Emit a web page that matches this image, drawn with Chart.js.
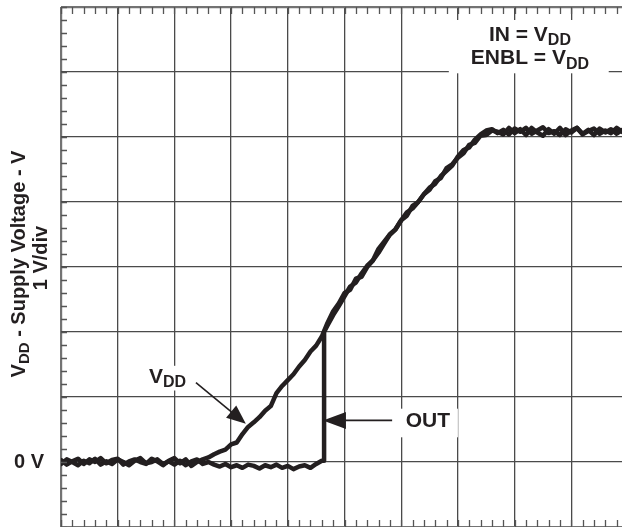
<!DOCTYPE html>
<html>
<head>
<meta charset="utf-8">
<script src="https://cdn.jsdelivr.net/npm/chart.js@4.4.1/dist/chart.umd.min.js"></script>
<style>
  html, body { margin: 0; padding: 0; background: #fff; overflow: hidden; }
  canvas { display: block; }
</style>
</head>
<body>
<canvas id="scope" width="630" height="532"></canvas>
<script>
(function () {
  'use strict';

  // --- Trace data (x in time divisions, y in volts = divisions) ---
  var vddX = [0, 0.1, 0.2, 0.3, 0.4, 0.5, 0.6, 0.7, 0.8, 0.9, 1.0, 1.1, 1.2, 1.3, 1.4, 1.5, 1.6, 1.7, 1.8, 1.9,
    2.0, 2.1, 2.2, 2.3, 2.4, 2.5, 2.6, 2.7, 2.8, 2.9, 3.0, 3.1, 3.2, 3.3, 3.4, 3.5, 3.6, 3.7, 3.8, 3.9,
    4.0, 4.1, 4.2, 4.3, 4.4, 4.5, 4.6, 4.7, 4.8, 4.9, 5.0, 5.1, 5.2, 5.3, 5.4, 5.5, 5.6, 5.7, 5.8, 5.9,
    6.0, 6.1, 6.2, 6.3, 6.4, 6.5, 6.6, 6.7, 6.8, 6.9, 7.0, 7.1, 7.2, 7.3, 7.4, 7.5, 7.6, 7.7, 7.8, 7.9,
    8.0, 8.1, 8.2, 8.3, 8.4, 8.5, 8.6, 8.7, 8.8, 8.9, 9.0, 9.1, 9.2, 9.3, 9.4, 9.5, 9.6, 9.7, 9.8, 9.9];
  var vddY = [0.03, -0.04, 0.01, 0.05, -0.03, 0.04, 0.0, 0.06, -0.02, 0.03, 0.05, -0.04, 0.01, 0.04, 0.0, -0.03, 0.05, 0.01, -0.05, 0.02,
    0.06, -0.02, 0.04, -0.06, 0.0, 0.04, 0.07, 0.12, 0.16, 0.19, 0.27, 0.3, 0.43, 0.54, 0.61, 0.69, 0.79, 0.86, 1.06, 1.17,
    1.26, 1.35, 1.47, 1.57, 1.7, 1.79, 1.93, 2.14, 2.32, 2.44, 2.6, 2.65, 2.82, 2.85, 3.0, 3.1, 3.28, 3.39, 3.5, 3.58,
    3.72, 3.79, 3.94, 4.0, 4.12, 4.19, 4.32, 4.37, 4.52, 4.58, 4.68, 4.75, 4.88, 4.91, 5.02, 5.03, 5.1, 5.08, 5.04, 5.14,
    5.06, 5.12, 5.03, 5.14, 5.07, 5.02, 5.12, 5.05, 5.14, 5.03, 5.1, 5.14, 5.05, 5.11, 5.03, 5.13, 5.07, 5.12, 5.05, 5.11];

  var outX = [0, 0.1, 0.2, 0.3, 0.4, 0.5, 0.6, 0.7, 0.8, 0.9, 1.0, 1.1, 1.2, 1.3, 1.4, 1.5, 1.6, 1.7, 1.8, 1.9,
    2.0, 2.1, 2.2, 2.3, 2.4, 2.5, 2.6, 2.7, 2.8, 2.9, 3.0, 3.1, 3.2, 3.3, 3.4, 3.5, 3.6, 3.7, 3.8, 3.9,
    4.0, 4.1, 4.2, 4.3, 4.4, 4.5, 4.6, 4.64, 4.64, 4.7, 4.8, 4.9, 5.0, 5.1, 5.2, 5.3, 5.4, 5.5, 5.6, 5.7,
    5.8, 5.9, 6.0, 6.1, 6.2, 6.3, 6.4, 6.5, 6.6, 6.7, 6.8, 6.9, 7.0, 7.1, 7.2, 7.3, 7.4, 7.5, 7.6, 7.7,
    7.8, 7.9, 8.0, 8.1, 8.2, 8.3, 8.4, 8.5, 8.6, 8.7, 8.8, 8.9, 9.0, 9.1, 9.2, 9.3, 9.4, 9.5, 9.6, 9.7, 9.8, 9.9];
  var outY = [-0.03, 0.04, 0.0, -0.05, 0.02, -0.02, 0.05, -0.04, 0.01, -0.03, 0.04, 0.0, -0.05, 0.02, 0.06, -0.02, 0.0, 0.04, -0.03, 0.01,
    -0.04, 0.02, -0.05, 0.01, 0.04, -0.03, 0.0, -0.04, -0.07, -0.03, -0.08, -0.05, -0.09, -0.04, -0.06, -0.1, -0.05, -0.08, -0.04, -0.09,
    -0.06, -0.11, -0.07, -0.05, -0.09, -0.03, 0.02, 0.02, 2.0, 2.1, 2.26, 2.4, 2.55, 2.7, 2.76, 2.9, 3.02, 3.1, 3.22, 3.36,
    3.5, 3.58, 3.72, 3.84, 3.9, 4.0, 4.12, 4.22, 4.28, 4.4, 4.48, 4.56, 4.7, 4.8, 4.84, 4.96, 5.04, 5.1, 5.12, 5.06,
    5.11, 5.04, 5.13, 5.08, 5.14, 5.05, 5.1, 5.15, 5.06, 5.09, 5.03, 5.12, 5.07, 5.14, 5.04, 5.09, 5.13, 5.05, 5.1, 5.06, 5.14, 5.08];

  // screen divisions
  var xDivs = [0, 10];
  var yDivs = [-1, 7];

  var ink = '#231f20';
  var gridDark = '#4a4a4a';
  var gridEdge = '#737373';
  var font = '"Liberation Sans", Arial, Helvetica, sans-serif';

  function pts(xs, ys) {
    return xs.map(function (x, i) { return { x: x, y: ys[i] }; });
  }

  function textSub(ctx, main, sub, x, y, size, align) {
    ctx.font = 'bold ' + size + 'px ' + font;
    var mw = ctx.measureText(main).width;
    ctx.font = 'bold ' + Math.round(size * 0.74) + 'px ' + font;
    var sw = ctx.measureText(sub).width;
    var total = mw + sw;
    var x0 = align === 'center' ? x - total / 2 : (align === 'right' ? x - total : x);
    ctx.textAlign = 'left';
    ctx.textBaseline = 'alphabetic';
    ctx.font = 'bold ' + size + 'px ' + font;
    ctx.fillText(main, x0, y);
    ctx.font = 'bold ' + Math.round(size * 0.74) + 'px ' + font;
    ctx.fillText(sub, x0 + mw, y + size * 0.22);
  }

  function arrow(ctx, x1, y1, x2, y2, len, half) {
    var a = Math.atan2(y2 - y1, x2 - x1);
    ctx.beginPath();
    ctx.moveTo(x1, y1);
    ctx.lineTo(x2 - Math.cos(a) * len * 0.8, y2 - Math.sin(a) * len * 0.8);
    ctx.lineWidth = 1.6;
    ctx.strokeStyle = ink;
    ctx.stroke();
    ctx.beginPath();
    ctx.moveTo(x2, y2);
    ctx.lineTo(x2 - Math.cos(a) * len - Math.sin(a) * half, y2 - Math.sin(a) * len + Math.cos(a) * half);
    ctx.lineTo(x2 - Math.cos(a) * len + Math.sin(a) * half, y2 - Math.sin(a) * len - Math.cos(a) * half);
    ctx.closePath();
    ctx.fillStyle = ink;
    ctx.fill();
  }

  // White label backgrounds (cut the graticule), ticks and annotations
  var scopePlugin = {
    id: 'scopeDecor',
    beforeDatasetsDraw: function (chart) {
      var ctx = chart.ctx;
      var sx = chart.scales.x, sy = chart.scales.y;
      function box(x1, y1, x2, y2) {
        ctx.fillRect(sx.getPixelForValue(x1), sy.getPixelForValue(y1),
          sx.getPixelForValue(x2) - sx.getPixelForValue(x1), sy.getPixelForValue(y2) - sy.getPixelForValue(y1));
      }
      ctx.save();
      ctx.fillStyle = '#fff';
      box(6.84, 6.8, 9.66, 5.98);   // IN / ENBL
      box(5.95, 0.82, 7.0, 0.38);   // OUT
      box(1.5, 1.48, 2.32, 1.1);    // VDD
      ctx.restore();
    },
    afterDraw: function (chart) {
      var ctx = chart.ctx;
      var sx = chart.scales.x, sy = chart.scales.y;
      var a = chart.chartArea;
      ctx.save();
      // minor graticule ticks along the edges
      ctx.strokeStyle = '#555';
      ctx.lineWidth = 1.3;
      ctx.beginPath();
      for (var i = 0; i <= 50; i++) {
        var px = Math.round(sx.getPixelForValue(i * 0.2)) + 0.5;
        ctx.moveTo(px, a.top); ctx.lineTo(px, a.top + 7);
        ctx.moveTo(px, a.bottom); ctx.lineTo(px, a.bottom - 7);
      }
      for (var j = 0; j <= 40; j++) {
        var py = Math.round(sy.getPixelForValue(-1 + j * 0.2)) + 0.5;
        ctx.moveTo(a.left, py); ctx.lineTo(a.left + 6, py);
        ctx.moveTo(a.right, py); ctx.lineTo(a.right - 6, py);
      }
      ctx.stroke();

      ctx.fillStyle = ink;
      // condition box
      textSub(ctx, 'IN = V', 'DD', sx.getPixelForValue(8.27), sy.getPixelForValue(6.48), 21, 'center');
      textSub(ctx, 'ENBL = V', 'DD', sx.getPixelForValue(8.27), sy.getPixelForValue(6.12), 21, 'center');
      // trace labels
      textSub(ctx, 'V', 'DD', sx.getPixelForValue(1.55), sy.getPixelForValue(1.22), 21, 'left');
      ctx.font = 'bold 21px ' + font;
      ctx.textAlign = 'center';
      ctx.textBaseline = 'middle';
      ctx.fillText('OUT', sx.getPixelForValue(6.47), sy.getPixelForValue(0.63));
      arrow(ctx, sx.getPixelForValue(2.38), sy.getPixelForValue(1.22), sx.getPixelForValue(3.26), sy.getPixelForValue(0.59), 19, 8);
      arrow(ctx, sx.getPixelForValue(5.84), sy.getPixelForValue(0.64), sx.getPixelForValue(4.62), sy.getPixelForValue(0.64), 23, 8.5);

      // 0 V reference
      ctx.fillStyle = ink;
      ctx.font = 'bold 20px ' + font;
      ctx.textAlign = 'right';
      ctx.textBaseline = 'middle';
      ctx.fillText('0 V', a.left - 17, sy.getPixelForValue(0));

      // y axis title (rotated)
      ctx.translate(25, 264);
      ctx.rotate(-Math.PI / 2);
      ctx.font = 'bold 20px ' + font;
      var m1 = ctx.measureText('V').width;
      ctx.font = 'bold 15px ' + font;
      var m2 = ctx.measureText('DD').width;
      ctx.font = 'bold 20px ' + font;
      var m3 = ctx.measureText(' - Supply Voltage - V').width;
      var x0 = -(m1 + m2 + m3) / 2;
      ctx.textAlign = 'left';
      ctx.textBaseline = 'alphabetic';
      ctx.fillText('V', x0, 0);
      ctx.font = 'bold 15px ' + font;
      ctx.fillText('DD', x0 + m1, 4);
      ctx.font = 'bold 20px ' + font;
      ctx.fillText(' - Supply Voltage - V', x0 + m1 + m2, 0);
      ctx.textAlign = 'center';
      ctx.fillText('1 V/div', 6, 22);
      ctx.restore();
    }
  };

  var traceStyle = {
    borderColor: ink,
    borderWidth: 4.5,
    pointRadius: 0,
    tension: 0,
    fill: false,
    borderJoinStyle: 'round',
    borderCapStyle: 'round'
  };

  new Chart(document.getElementById('scope').getContext('2d'), {
    type: 'line',
    data: {
      datasets: [
        Object.assign({ label: 'VDD', data: pts(vddX, vddY) }, traceStyle),
        Object.assign({ label: 'OUT', data: pts(outX, outY) }, traceStyle)
      ]
    },
    options: {
      responsive: false,
      animation: false,
      events: [],
      layout: { padding: { left: 61, top: 7, right: 2, bottom: 5 } },
      scales: {
        x: {
          type: 'linear',
          min: xDivs[0],
          max: xDivs[1],
          ticks: { display: false, stepSize: 1 },
          border: { display: false },
          grid: {
            drawTicks: false,
            color: function (c) { return (c.tick.value === xDivs[0] || c.tick.value === xDivs[1]) ? gridEdge : gridDark; },
            lineWidth: function (c) { return (c.tick.value === xDivs[0] || c.tick.value === xDivs[1]) ? 2.2 : 1.3; }
          }
        },
        y: {
          type: 'linear',
          min: yDivs[0],
          max: yDivs[1],
          ticks: { display: false, stepSize: 1 },
          border: { display: false },
          grid: {
            drawTicks: false,
            color: function (c) { return (c.tick.value === yDivs[0] || c.tick.value === yDivs[1]) ? gridEdge : gridDark; },
            lineWidth: function (c) { return (c.tick.value === yDivs[0] || c.tick.value === yDivs[1]) ? 2.2 : 1.3; }
          }
        }
      },
      plugins: {
        legend: { display: false },
        tooltip: { enabled: false }
      }
    },
    plugins: [scopePlugin]
  });
})();
</script>
</body>
</html>
